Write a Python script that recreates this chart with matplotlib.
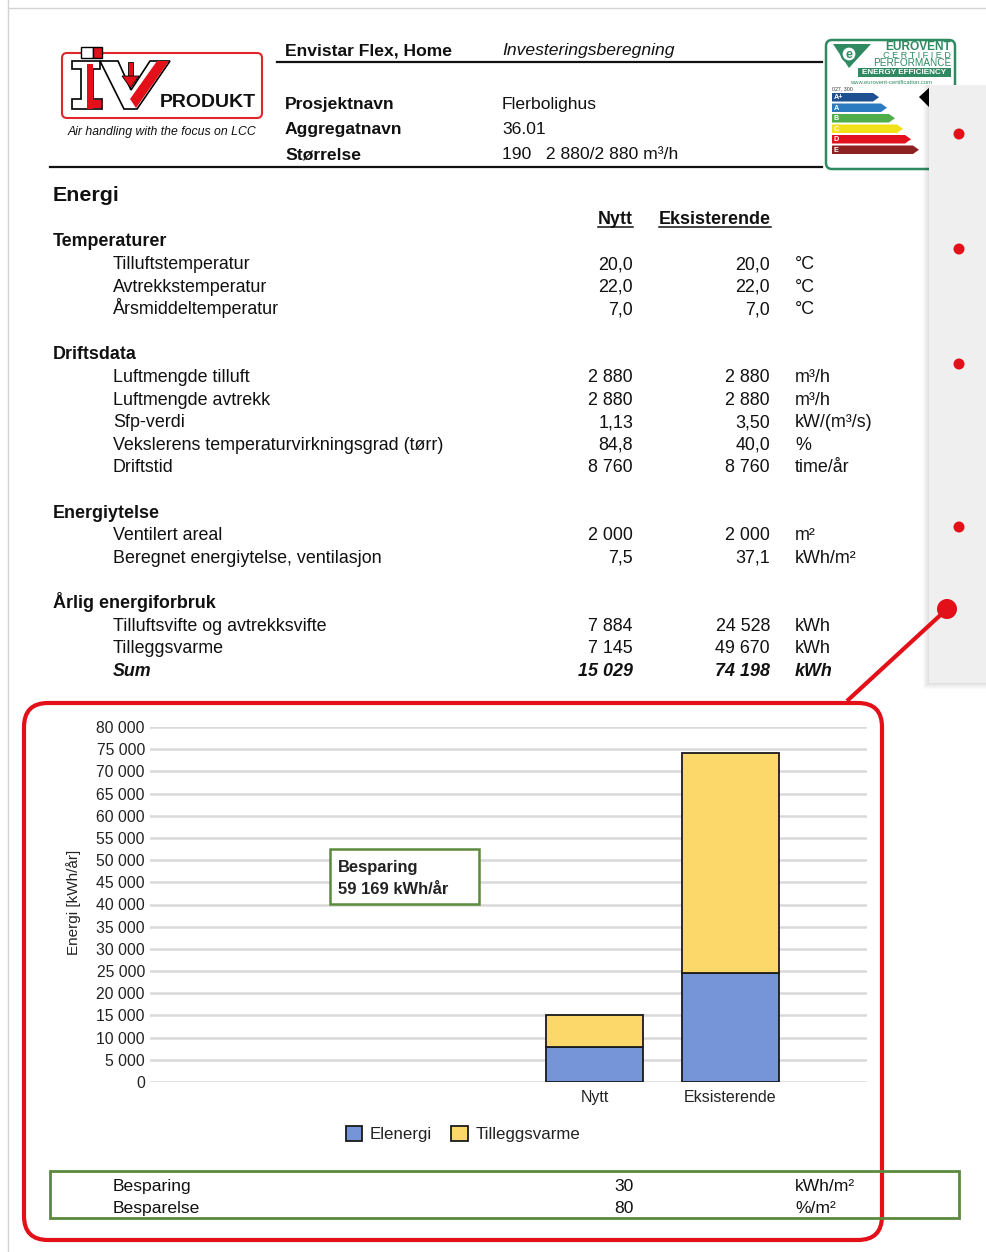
import matplotlib
matplotlib.use("Agg")
import matplotlib.pyplot as plt
from matplotlib.patches import Rectangle, FancyBboxPatch, Polygon, Circle
from matplotlib.ticker import FuncFormatter

plt.rcParams['font.family'] = ['Liberation Sans', 'DejaVu Sans']

# ---------------- data ----------------
categories = ["Nytt", "Eksisterende"]
elenergi = [7884, 24528]          # Tilluftsvifte og avtrekksvifte (kWh/år)
tilleggsvarme = [7145, 49670]     # Tilleggsvarme (kWh/år)
series_names = ["Elenergi", "Tilleggsvarme"]
y_ticks = list(range(0, 80001, 5000))

header_left = ["Prosjektnavn", "Aggregatnavn", "Størrelse"]
header_right = ["Flerbolighus", "36.01", "190   2 880/2 880 m³/h"]

temp_labels = ["Tilluftstemperatur", "Avtrekkstemperatur", "Årsmiddeltemperatur"]
temp_nytt = ["20,0", "22,0", "7,0"]
temp_eks = ["20,0", "22,0", "7,0"]
temp_units = ["°C", "°C", "°C"]

drift_labels = ["Luftmengde tilluft", "Luftmengde avtrekk", "Sfp-verdi",
                "Vekslerens temperaturvirkningsgrad (tørr)", "Driftstid"]
drift_nytt = ["2 880", "2 880", "1,13", "84,8", "8 760"]
drift_eks = ["2 880", "2 880", "3,50", "40,0", "8 760"]
drift_units = ["m³/h", "m³/h", "kW/(m³/s)", "%", "time/år"]

ytelse_labels = ["Ventilert areal", "Beregnet energiytelse, ventilasjon"]
ytelse_nytt = ["2 000", "7,5"]
ytelse_eks = ["2 000", "37,1"]
ytelse_units = ["m²", "kWh/m²"]

forbruk_labels = ["Tilluftsvifte og avtrekksvifte", "Tilleggsvarme"]

saving_labels = ["Besparing", "Besparelse"]
saving_values = ["30", "80"]
saving_units = ["kWh/m²", "%/m²"]


def fmt(v):
    return f"{v:,}".replace(",", " ")


# ---------------- figure ----------------
W, H = 986, 1252
fig = plt.figure(figsize=(W / 100, H / 100), dpi=100)
bg = fig.add_axes([0, 0, 1, 1])
bg.set_xlim(0, W)
bg.set_ylim(H, 0)
bg.axis('off')

RED = '#e3101a'
GREEN = '#5b8a3c'
TXT = '#111111'
TS = 12.9  # table font size


def T(ax, x, y, s, size=12.6, weight='normal', style='normal', ha='left',
      color=TXT, **kw):
    off = 0.358 * size * 100 / 72
    return ax.text(x, y + off, s, fontsize=size, fontweight=weight,
                   fontstyle=style, ha=ha, va='baseline', color=color, **kw)


# page edge
bg.plot([8, 8], [0, H], color='#d4d4d4', lw=1)
bg.plot([8, W], [8, 8], color='#d4d4d4', lw=1)

# ---------------- IV PRODUKT logo ----------------
bg.add_patch(FancyBboxPatch((62, 53), 200, 65,
                            boxstyle='round,pad=0,rounding_size=5',
                            fc='white', ec='#e0262b', lw=1.5))
bg.add_patch(Rectangle((81, 47), 12, 11, fc='white', ec='black', lw=1))
bg.add_patch(Rectangle((93, 47), 9, 11, fc=RED, ec='black', lw=1))
I_shape = [(72, 61), (100, 61), (100, 69), (93, 69), (93, 99), (102, 99),
           (102, 109), (72, 109), (72, 99), (81, 99), (81, 69), (72, 69)]
bg.add_patch(Polygon(I_shape, closed=True, fc='white', ec='black', lw=1.2))
bg.add_patch(Rectangle((87, 64), 6, 45, fc=RED, ec='none'))
bg.add_patch(Rectangle((93, 100), 8, 8, fc=RED, ec='none'))
V_shape = [(100, 61), (118, 61), (131, 90), (150, 61), (170, 61), (137, 109), (124, 109)]
bg.add_patch(Polygon(V_shape, closed=True, fc='white', ec='black', lw=1.2))
bg.add_patch(Polygon([(157, 61), (169, 61), (136, 108), (130, 99)], closed=True,
                     fc=RED, ec='none'))
bg.add_patch(Rectangle((128, 62), 5, 14, fc=RED, ec='black', lw=0.6))
bg.add_patch(Polygon([(122, 76), (139, 76), (130.5, 88)], closed=True,
                     fc=RED, ec='black', lw=0.6))
T(bg, 160, 100, "PRODUKT", size=14, weight='bold')
T(bg, 68, 131, "Air handling with the focus on LCC", size=8.8, style='italic')

# ---------------- header ----------------
T(bg, 285, 49, "Envistar Flex, Home", weight='bold')
T(bg, 502, 49, "Investeringsberegning", style='italic')
bg.plot([277, 822], [62, 62], color=TXT, lw=1.6)
for i, (l, r) in enumerate(zip(header_left, header_right)):
    y = 103 + 25 * i
    T(bg, 285, y, l, weight='bold')
    T(bg, 502, y, r)
bg.plot([50, 822], [167, 167], color=TXT, lw=1.6)

# ---------------- Eurovent label ----------------
EG = '#2f8a62'
bg.add_patch(FancyBboxPatch((826, 40), 129, 129,
                            boxstyle='round,pad=0,rounding_size=6',
                            fc='white', ec=EG, lw=1.8))
bg.add_patch(Polygon([(833, 44), (871, 44), (849, 68)], closed=True, fc=EG, ec='none'))
bg.add_patch(Circle((849, 54), 7.5, fc='white', ec=EG, lw=1.6))
bg.text(849, 54.5, "e", fontsize=9, fontweight='bold', color=EG, ha='center', va='center')
bg.text(951, 47, "EUROVENT", fontsize=8.6, fontweight='bold', color=EG, ha='right', va='center')
bg.text(951, 56, "C E R T I F I E D", fontsize=6.6, color=EG, ha='right', va='center')
bg.text(951, 63, "PERFORMANCE", fontsize=7.2, color=EG, ha='right', va='center')
bg.add_patch(Rectangle((858, 68), 93, 9, fc=EG, ec='none'))
bg.text(904.5, 72.8, "ENERGY EFFICIENCY", fontsize=5.9, fontweight='bold', color='white',
        ha='center', va='center')
bg.text(891, 83, "www.eurovent-certification.com", fontsize=4.2, color=EG,
        ha='center', va='center')
bg.text(832, 89, "027, 300", fontsize=3.8, color='#333333', ha='left', va='center')
classes = ["A+", "A", "B", "C", "D", "E"]
class_cols = ['#1d4f91', '#2a7bbf', '#4fae4a', '#f2e01a', '#e3101d', '#8e2121']
class_tips = [879, 887, 895, 903, 911, 919]
class_tops = [93, 103.5, 114, 124.5, 135, 145.5]
for c, col, tip, y0 in zip(classes, class_cols, class_tips, class_tops):
    y1 = y0 + 8.5
    bg.add_patch(Polygon([(832, y0), (tip - 6, y0), (tip, (y0 + y1) / 2),
                          (tip - 6, y1), (832, y1)], closed=True, fc=col, ec='none'))
    bg.text(834, (y0 + y1) / 2 + 0.3, c, fontsize=5.2, fontweight='bold', color='white',
            ha='left', va='center')
bg.add_patch(Polygon([(919, 97), (930, 87), (930, 108)], closed=True, fc='black', ec='none'))

# ---------------- side panel with bullets ----------------
for k in range(6, 0, -1):
    bg.add_patch(Rectangle((929 - k, 85), 57 + k, 598 + k, fc='black', alpha=0.018,
                           ec='none', zorder=4))
bg.add_patch(Rectangle((929, 85), 57, 598, fc='#efefef', ec='none', zorder=5))
for yy in [134, 249, 364, 527]:
    bg.add_patch(Circle((959, yy), 5.5, fc=RED, ec='none', zorder=6))
bg.plot([847, 947], [701, 609], color=RED, lw=3, zorder=6, solid_capstyle='butt')
bg.add_patch(Circle((947, 609), 10, fc=RED, ec='none', zorder=7))

# ---------------- energy table ----------------
T(bg, 53, 193, "Energi", size=15.4, weight='bold')
col_h = [T(bg, 633, 218, "Nytt", size=TS, weight='bold', ha='right'),
         T(bg, 771, 218, "Eksisterende", size=TS, weight='bold', ha='right')]

X_LAB, X_N, X_E, X_U = 113, 633, 770, 795
STEP = 22.6
sections = [
    ("Temperaturer", temp_labels, temp_nytt, temp_eks, temp_units),
    ("Driftsdata", drift_labels, drift_nytt, drift_eks, drift_units),
    ("Energiytelse", ytelse_labels, ytelse_nytt, ytelse_eks, ytelse_units),
    ("Årlig energiforbruk", forbruk_labels,
     [fmt(elenergi[0]), fmt(tilleggsvarme[0])],
     [fmt(elenergi[1]), fmt(tilleggsvarme[1])], ["kWh", "kWh"]),
]
y = 240
for title, labs, nv, ev, un in sections:
    T(bg, 53, y, title, size=TS, weight='bold')
    for lab, a, b, u in zip(labs, nv, ev, un):
        y += STEP
        T(bg, X_LAB, y, lab, size=TS)
        T(bg, X_N, y, a, size=TS, ha='right')
        T(bg, X_E, y, b, size=TS, ha='right')
        T(bg, X_U, y, u, size=TS)
    if title != "Årlig energiforbruk":
        y += 2 * STEP
y += STEP
tot_n = elenergi[0] + tilleggsvarme[0]
tot_e = elenergi[1] + tilleggsvarme[1]
T(bg, X_LAB, y, "Sum", size=TS, weight='bold', style='italic')
T(bg, X_N, y, fmt(tot_n), size=TS, weight='bold', style='italic', ha='right')
T(bg, X_E, y, fmt(tot_e), size=TS, weight='bold', style='italic', ha='right')
T(bg, X_U, y, "kWh", size=TS, weight='bold', style='italic')

# ---------------- red rounded frame ----------------
bg.add_patch(FancyBboxPatch((24, 703), 858, 537,
                            boxstyle='round,pad=0,rounding_size=24',
                            fill=False, ec=RED, lw=3.0, zorder=3))

# ---------------- chart ----------------
L, R, TOP, BOT = 150, 867, 727, 1082
ax = fig.add_axes([L / W, 1 - BOT / H, (R - L) / W, (BOT - TOP) / H])
ax.set_facecolor('none')
xpos = [0, 1]
bw = 0.713
b1 = ax.bar(xpos, elenergi, width=bw, color='#7695d9', edgecolor='#1a1a1a', lw=1.3,
            label=series_names[0], zorder=3)
b2 = ax.bar(xpos, tilleggsvarme, width=bw, bottom=elenergi, color='#fcd86a',
            edgecolor='#1a1a1a', lw=1.3, label=series_names[1], zorder=3)
ax.set_xlim(-3.268, 2.004)
ax.set_ylim(0, 80000)
ax.set_yticks(y_ticks)
ax.yaxis.set_major_formatter(FuncFormatter(lambda v, p: fmt(int(v))))
ax.set_xticks(xpos)
ax.set_xticklabels(categories)
for s in ax.spines.values():
    s.set_visible(False)
ax.set_axisbelow(True)
ax.yaxis.grid(True, color='#d9d9d9', lw=1.8)
ax.tick_params(axis='y', length=0, pad=3.6, labelsize=11.3, labelcolor='#222222')
ax.tick_params(axis='x', length=0, pad=6, labelsize=11.5, labelcolor='#222222')
ax.set_ylabel("Energi [kWh/år]", fontsize=11, color='#222222')
ax.yaxis.set_label_coords(-0.096, 0.507)
leg = ax.legend(handles=[b1, b2], labels=series_names, loc='center',
                bbox_to_anchor=(463 / W, 1 - 1134 / H), bbox_transform=fig.transFigure,
                ncol=2, frameon=False, fontsize=12.2, handlelength=1.0, handleheight=1.0,
                handletextpad=0.45, columnspacing=1.1, borderaxespad=0, borderpad=0)
for t in leg.get_texts():
    t.set_color('#222222')

# overlay for annotation box & bottom table
ov = fig.add_axes([0, 0, 1, 1])
ov.set_xlim(0, W)
ov.set_ylim(H, 0)
ov.axis('off')
ov.patch.set_alpha(0)
ov.add_patch(Rectangle((330, 849), 149, 55, fc='white', ec=GREEN, lw=1.8))
T(ov, 338, 866, "Besparing", size=11.9, weight='bold', color='#222222')
T(ov, 338, 888, f"{fmt(tot_e - tot_n)} kWh/år", size=11.9, weight='bold', color='#222222')

ov.add_patch(Rectangle((50, 1171), 909, 47, fill=False, ec=GREEN, lw=2))
for i, (l, v, u) in enumerate(zip(saving_labels, saving_values, saving_units)):
    yy = 1185 + 22 * i
    T(ov, 113, yy, l)
    T(ov, 634, yy, v, ha='right')
    T(ov, 795, yy, u)

# underline column headers
fig.canvas.draw()
inv = bg.transData.inverted()
for t in col_h:
    bb = t.get_window_extent()
    (x0, _), (x1, _) = inv.transform([(bb.x0, bb.y0), (bb.x1, bb.y1)])
    bg.plot([x0, x1], [227, 227], color=TXT, lw=1.1)

fig.savefig("out.png", dpi=100)
